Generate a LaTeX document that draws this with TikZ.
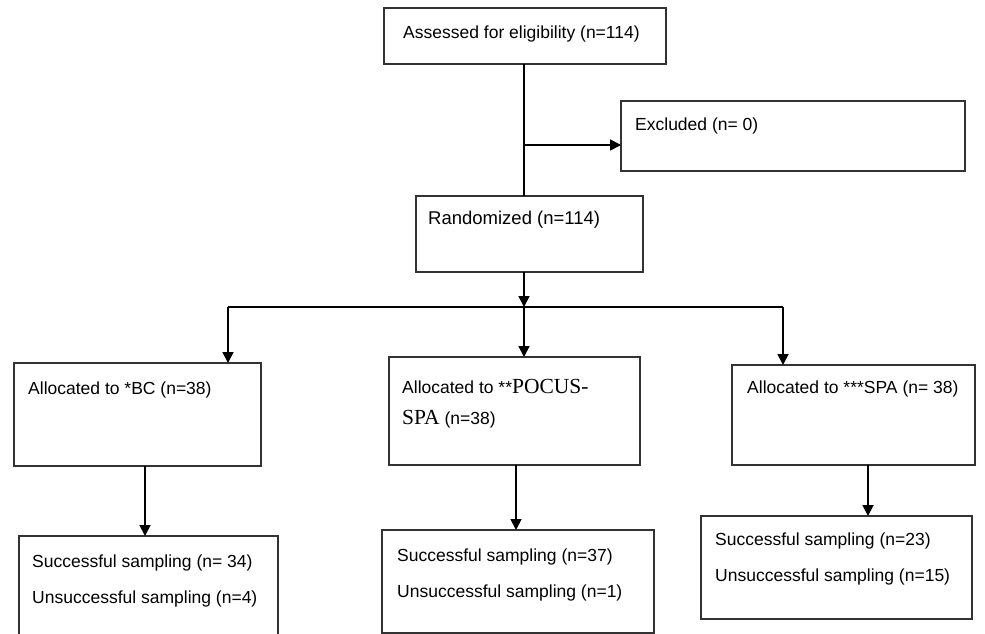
\documentclass[tikz,border=0pt]{standalone}
\usepackage{fontspec}
\setmainfont{Liberation Sans}
\newfontfamily\serifx{Liberation Serif}
\usetikzlibrary{arrows.meta}
\begin{document}
\begin{tikzpicture}[x=1pt,y=-1pt,
  box/.style={draw=black!80, line width=1.3pt, inner sep=0pt, outer sep=0pt, anchor=north west},
  txt/.style={inner sep=0pt, anchor=base west, font=\fontsize{17.5}{21}\selectfont},
  conn/.style={line width=1.8pt, draw=black},
  arr/.style={conn, -{Triangle[length=11pt,width=11pt]}}]
\useasboundingbox (0,0) rectangle (985,634);
\clip (0,0) rectangle (985,634);
\fill[white] (0,0) rectangle (985,634);
% boxes
\node[box, minimum width=282pt, minimum height=56pt]  (assess) at (384,8) {};
\node[box, minimum width=344pt, minimum height=70pt]  (excl)   at (621,101) {};
\node[box, minimum width=227pt, minimum height=76pt]  (rand)   at (416,196) {};
\node[box, minimum width=247pt, minimum height=103pt] (bc)     at (14,363) {};
\node[box, minimum width=251pt, minimum height=108pt] (pocus)  at (389,357) {};
\node[box, minimum width=243pt, minimum height=100pt] (spa)    at (732,365) {};
\node[box, minimum width=259pt, minimum height=124pt] (sbc)    at (19,536) {};
\node[box, minimum width=272pt, minimum height=103pt] (spoc)   at (382,530) {};
\node[box, minimum width=271pt, minimum height=103pt] (sspa)   at (701,516) {};
% texts
\node[txt] (t1) at (403,39) {Assessed for eligibility (n=114)};
\node[txt] (t2) at (635,130) {Excluded (n= 0)};
\node[txt, font=\fontsize{18.5}{22}\selectfont] (t3) at (428,224) {Randomized (n=114)};
\node[txt] (t4) at (28,394) {Allocated to *BC (n=38)};
\node[txt] (t5) at (402,393) {Allocated to **{\serifx\fontsize{21.5}{24}\selectfont POCUS-}};
\node[txt] (t6) at (402,424) {{\serifx\fontsize{21.5}{24}\selectfont SPA} (n=38)};
\node[txt] (t7) at (747,393) {Allocated to ***SPA (n= 38)};
\node[txt] (t8) at (32,567) {Successful sampling (n= 34)};
\node[txt] (t9) at (32,603) {Unsuccessful sampling (n=4)};
\node[txt] (t10) at (397,561) {Successful sampling (n=37)};
\node[txt] (t11) at (397,597) {Unsuccessful sampling (n=1)};
\node[txt] (t12) at (715,545) {Successful sampling (n=23)};
\node[txt] (t13) at (715,581) {Unsuccessful sampling (n=15)};
% connectors
\coordinate (topline) at (524,0);
\coordinate (j1) at (524,145);
\coordinate (split) at (524,307);
\coordinate (sl) at (228,307);
\coordinate (sr) at (783,307);
\coordinate (cl) at (145,0);
\coordinate (cm) at (516,0);
\coordinate (cr) at (868,0);
\draw[conn] (assess.south -| topline) -- (rand.north -| topline);
\draw[arr] (j1) -- (j1 -| excl.west);
\draw[arr] (rand.south -| topline) -- (split);
\draw[conn] (sl) -- (sr);
\draw[arr] (sl) -- (sl |- bc.north);
\draw[arr] (split) -- (split |- pocus.north);
\draw[arr] (sr) -- (sr |- spa.north);
\draw[arr] (cl |- bc.south) -- (cl |- sbc.north);
\draw[arr] (cm |- pocus.south) -- (cm |- spoc.north);
\draw[arr] (cr |- spa.south) -- (cr |- sspa.north);
\end{tikzpicture}
\end{document}
